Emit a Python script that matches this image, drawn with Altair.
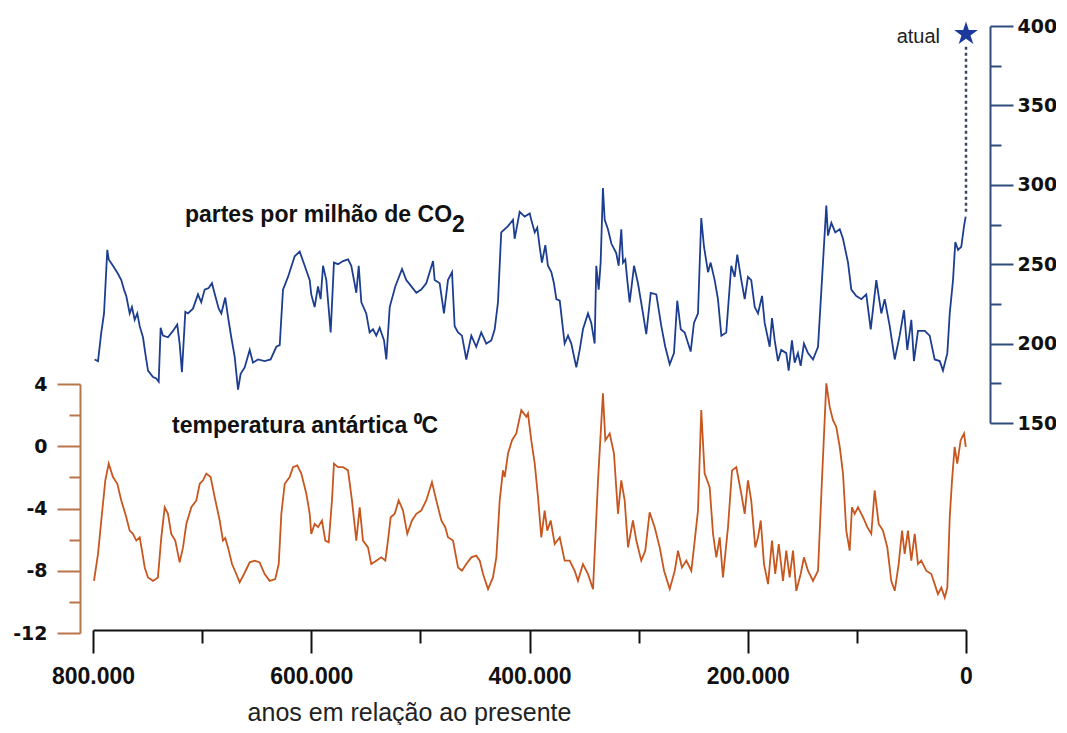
import altair as alt
import pandas as pd

# ---------------- data ----------------
# CO2 (ppm) vs. thousands of years before present
co2_age = [798.5, 795.4, 792.4, 789.9, 786.9, 785.6, 781.7, 777.1, 774.1, 771.6,
           769.5, 766.4, 764.3, 761.8, 759.4, 757.2, 754.2, 752.1, 749.6, 745.0,
           742.0, 739.8, 738.0, 735.9, 731.3, 726.7, 722.8, 720.6, 718.5, 715.4,
           713.0, 708.4, 703.8, 700.8, 697.7, 694.0, 691.0, 689.1, 684.8, 682.4,
           678.8, 676.3, 673.3, 670.2, 667.1, 664.7, 661.0, 656.4, 653.4, 648.8,
           642.7, 637.2, 632.0, 628.9, 625.9, 621.3, 615.2, 610.6, 606.0, 601.4,
           600.0, 596.9, 593.8, 591.4, 589.2, 586.2, 582.2, 579.2, 575.5, 570.9,
           566.3, 563.3, 558.7, 556.5, 554.1, 549.6, 546.5, 543.4, 540.4, 537.3,
           533.3, 531.2, 528.1, 523.0, 516.8, 512.9, 508.3, 503.7, 499.2, 494.6,
           488.4, 486.9, 482.3, 478.4, 474.7, 471.0, 468.6, 465.5, 461.9, 457.9,
           453.3, 448.8, 444.2, 439.6, 435.0, 431.9, 428.9, 425.9, 419.7, 415.1,
           413.6, 409.0, 404.4, 399.8, 398.4, 395.2, 392.9, 390.7, 388.6, 385.5,
           383.1, 380.0, 377.6, 375.4, 372.3, 367.8, 364.7, 361.7, 357.1, 354.0,
           351.0, 346.4, 343.4, 340.3, 338.8, 336.6, 334.8, 332.7, 331.1, 328.1,
           325.0, 320.5, 318.3, 315.9, 314.3, 312.2, 310.4, 308.2, 304.2, 300.6,
           296.0, 293.0, 288.9, 283.8, 279.2, 275.6, 271.5, 267.6, 264.6, 261.4,
           257.8, 252.3, 249.3, 245.6, 242.6, 240.1, 236.4, 234.0, 230.3, 227.3,
           224.2, 219.7, 215.1, 212.0, 209.6, 205.9, 202.8, 199.8, 196.8, 193.6,
           190.6, 186.9, 184.5, 179.9, 177.8, 175.3, 172.3, 169.3, 164.7, 162.5,
           159.5, 157.0, 154.0, 151.5, 148.5, 144.8, 140.2, 135.6, 132.0, 128.0,
           126.5, 123.4, 119.8, 115.7, 112.7, 108.1, 105.1, 100.5, 95.9, 91.4,
           87.3, 82.2, 77.6, 74.5, 69.9, 65.3, 60.8, 56.8, 53.8, 50.1,
           47.7, 44.0, 37.8, 33.3, 28.7, 24.1, 21.1, 17.1, 14.9, 11.9,
           9.8, 7.3, 4.3, 1.8, 0.3]
co2_ppm = [190, 189, 207, 219, 259, 253, 249, 244, 240, 234,
           230, 219, 223, 215, 219, 211, 204, 194, 183, 179,
           178, 176, 210, 205, 204, 208, 212, 200, 182, 220,
           219, 222, 231, 226, 234, 235, 238, 233, 222, 219,
           229, 217, 204, 192, 171, 181, 185, 196, 188, 190,
           189, 190, 198, 199, 234, 242, 255, 258, 249, 240,
           231, 223, 236, 228, 249, 240, 207, 251, 250, 252,
           253, 249, 232, 249, 226, 219, 207, 209, 205, 210,
           202, 190, 223, 236, 247, 240, 236, 232, 234, 238,
           252, 240, 238, 219, 240, 245, 211, 207, 205, 190,
           205, 198, 207, 200, 202, 209, 226, 270, 274, 278,
           266, 283, 280, 282, 278, 270, 273, 261, 251, 262,
           249, 245, 238, 228, 227, 200, 205, 200, 185, 196,
           209, 219, 213, 200, 249, 234, 251, 298, 278, 272,
           263, 257, 249, 272, 251, 253, 240, 226, 249, 238,
           219, 206, 232, 231, 211, 198, 187, 194, 227, 209,
           207, 195, 213, 219, 279, 261, 245, 251, 240, 228,
           205, 207, 249, 242, 256, 240, 228, 242, 240, 223,
           219, 230, 213, 198, 216, 202, 189, 196, 194, 183,
           202, 188, 194, 186, 200, 194, 190, 198, 240, 287,
           268, 276, 270, 272, 266, 251, 234, 230, 228, 231,
           209, 240, 219, 228, 211, 190, 205, 221, 196, 215,
           189, 208, 208, 205, 190, 189, 183, 194, 219, 240,
           264, 259, 261, 274, 280]

# Antarctic temperature (deg C) vs. thousands of years before present
temp_age = [799.1, 795.4, 791.8, 788.7, 785.6, 781.7, 777.7, 774.1, 769.5, 766.4,
            763.4, 760.3, 757.2, 755.1, 752.6, 749.6, 745.0, 740.5, 737.4, 734.3,
            731.3, 728.3, 724.6, 720.6, 717.5, 714.5, 709.9, 705.3, 702.2, 699.2,
            696.2, 692.2, 688.5, 683.9, 680.9, 678.8, 676.3, 672.6, 668.7, 665.6,
            661.6, 656.4, 651.8, 647.3, 642.7, 638.1, 633.0, 629.8, 627.4, 624.3,
            619.8, 616.7, 612.8, 609.1, 604.5, 601.4, 600.0, 596.9, 593.8, 590.2,
            587.1, 584.0, 581.0, 579.2, 575.5, 570.9, 566.3, 562.7, 558.7, 555.6,
            552.6, 548.0, 545.0, 540.4, 535.8, 532.1, 529.7, 527.2, 523.5, 519.9,
            515.9, 512.0, 507.7, 503.7, 499.2, 494.6, 489.4, 485.4, 480.8, 477.2,
            474.7, 470.1, 465.5, 461.9, 457.9, 453.3, 448.8, 445.6, 442.6, 438.0,
            433.5, 430.4, 427.3, 424.3, 422.7, 419.7, 416.0, 412.1, 407.5, 402.9,
            401.4, 398.4, 395.2, 392.2, 389.2, 386.1, 383.7, 380.6, 376.9, 372.3,
            367.8, 363.2, 358.6, 355.6, 351.0, 346.4, 341.8, 337.2, 332.7, 330.5,
            326.5, 322.6, 318.9, 315.9, 312.8, 309.7, 305.2, 302.1, 297.6, 293.9,
            289.9, 285.3, 280.7, 276.7, 271.5, 266.9, 263.9, 260.3, 256.3, 251.7,
            248.6, 245.6, 242.6, 239.5, 234.9, 231.8, 228.8, 225.7, 222.7, 218.1,
            214.4, 210.5, 205.9, 202.8, 199.8, 196.8, 193.1, 190.6, 188.1, 185.1,
            181.4, 177.8, 174.8, 171.6, 167.7, 164.7, 161.6, 158.5, 155.5, 151.5,
            148.5, 144.8, 140.2, 135.6, 132.0, 128.0, 124.9, 121.9, 118.9, 115.7,
            112.7, 109.7, 106.6, 104.5, 102.0, 99.0, 94.4, 90.4, 86.8, 83.7,
            80.0, 76.1, 72.1, 68.5, 65.3, 61.7, 58.6, 56.2, 53.2, 50.1,
            47.0, 44.0, 41.0, 36.4, 31.8, 28.7, 25.7, 22.6, 19.5, 17.1,
            14.9, 12.8, 10.4, 8.0, 4.9, 1.8, 0.2]
temp_c = [-8.65, -6.92, -4.34, -2.19, -1.12, -1.98, -2.41, -3.48, -4.56, -5.42,
          -5.63, -6.06, -5.85, -6.71, -7.79, -8.43, -8.65, -8.43, -5.85, -3.92,
          -4.34, -5.63, -6.06, -7.46, -6.50, -5.00, -3.92, -3.48, -2.41, -2.19,
          -1.76, -1.98, -3.27, -4.77, -6.06, -5.90, -6.50, -7.57, -8.21, -8.75,
          -8.21, -7.46, -7.35, -7.46, -8.21, -8.65, -8.54, -7.57, -4.34, -2.41,
          -1.98, -1.34, -1.23, -1.76, -3.05, -4.34, -5.63, -4.99, -5.20, -4.77,
          -6.06, -6.17, -3.48, -1.12, -1.34, -1.34, -1.55, -3.48, -6.06, -3.92,
          -6.06, -6.50, -7.57, -7.35, -7.14, -7.35, -6.06, -4.56, -4.34, -3.48,
          -4.13, -5.63, -4.77, -4.34, -4.13, -3.48, -2.30, -3.48, -4.77, -5.20,
          -5.85, -6.06, -7.79, -8.00, -7.57, -7.14, -7.03, -7.35, -8.21, -9.18,
          -8.43, -7.14, -3.48, -1.55, -1.98, -0.47, 0.39, 0.82, 2.32, 1.89,
          2.11, 0.40, -1.12, -3.27, -5.85, -4.13, -5.42, -4.77, -6.28, -5.85,
          -7.35, -7.35, -8.00, -8.65, -7.57, -8.21, -9.18, -2.19, 3.40, 0.39,
          0.82, -0.47, -4.34, -2.19, -3.48, -6.50, -4.77, -6.06, -7.35, -6.71,
          -4.24, -5.20, -6.50, -8.00, -9.18, -8.00, -6.71, -7.79, -7.35, -8.00,
          -6.06, -4.13, 2.32, -1.76, -2.63, -5.63, -7.14, -5.85, -8.43, -5.20,
          -1.55, -1.34, -3.05, -4.34, -2.19, -3.50, -6.50, -5.85, -4.77, -7.57,
          -8.86, -6.06, -8.21, -6.28, -8.65, -6.71, -8.43, -6.71, -9.29, -8.21,
          -7.14, -8.00, -8.65, -8.00, -2.19, 4.04, 2.53, 1.68, 1.25, -0.04,
          -1.76, -5.42, -6.71, -3.92, -4.34, -3.92, -4.56, -5.20, -5.63, -2.84,
          -4.99, -5.42, -6.50, -8.65, -9.29, -7.57, -5.42, -6.92, -5.42, -7.35,
          -5.63, -7.57, -7.35, -8.00, -8.21, -8.86, -9.50, -9.08, -9.72, -9.08,
          -4.56, -2.19, -0.04, -1.12, 0.39, 0.82, -0.04]

# present-day CO2 ("atual") and the dotted connector
now_age = [0]
now_co2 = [395]
connector_from = [283]
connector_to = [388]

# ticks
x_ticks = [800, 700, 600, 500, 400, 300, 200, 100, 0]
temp_ticks = [-12, -10, -8, -6, -4, -2, 0, 2, 4]
co2_ticks = [150, 175, 200, 225, 250, 275, 300, 325, 350, 375, 400]

# text
x_title = "anos em relação ao presente"
co2_label_main = "partes por milhão de CO"
co2_label_sub = "2"
temp_label = "temperatura antártica ⁰C"
now_label = "atual"

# ---------------- styling ----------------
TEMP_LINE = "#c8561f"
TEMP_AXIS = "#b8744a"
CO2_LINE = "#1d3e90"
CO2_AXIS = "#2e4d7c"
STAR = "#1b3a9c"
TXT = "#111111"
STAR_PATH = ("M0,-1L0.2245,-0.309L0.951,-0.309L0.363,0.118L0.588,0.809L0,0.382"
             "L-0.588,0.809L-0.363,0.118L-0.951,-0.309L-0.2245,-0.309Z")

W, H = 873, 610

x_scale = alt.Scale(domain=[800, 0], nice=False, zero=False)
temp_scale = alt.Scale(domain=[-12, 4], range=[613, 364], nice=False, zero=False)
co2_scale = alt.Scale(domain=[150, 400], range=[403, 6], nice=False, zero=False)

x_axis = alt.Axis(
    values=x_ticks,
    labelExpr="datum.value % 200 === 0 ? (datum.value === 0 ? '0' : datum.value + '.000') : ''",
    tickSize={"condition": {"test": "datum.value % 200 === 0", "value": 23}, "value": 13},
    tickColor="#111111", tickWidth=2, domainColor="#111111", domainWidth=2,
    labelFont="Liberation Sans", labelFontSize=23, labelFontWeight="bold",
    labelColor=TXT, labelPadding=12, labelFlush=False, labelOverlap=False,
    grid=False,
    title=x_title, titleFont="Liberation Sans", titleFontSize=25,
    titleFontWeight="normal", titleColor="#222222",
    titleX=316, titleY=90, titleAlign="center", titleBaseline="alphabetic",
)

temp_axis = alt.Axis(
    orient="left", values=temp_ticks, offset=13,
    labelExpr="datum.value % 4 === 0 ? '' + datum.value : ''",
    tickSize={"condition": {"test": "datum.value % 4 === 0", "value": 23}, "value": 11},
    tickColor=TEMP_AXIS, tickWidth=2, domainColor=TEMP_AXIS, domainWidth=2,
    labelFont="DejaVu Sans", labelFontSize=19, labelFontWeight="bold",
    labelColor=TXT, labelPadding=10, labelFlush=False, labelOverlap=False,
    grid=False, title=None,
)

co2_axis = alt.Axis(
    orient="right", values=co2_ticks, offset=24,
    labelExpr="datum.value % 50 === 0 ? '' + datum.value : ''",
    tickSize={"condition": {"test": "datum.value % 50 === 0", "value": 23}, "value": 11},
    tickColor=CO2_AXIS, tickWidth=2, domainColor=CO2_AXIS, domainWidth=2,
    labelFont="DejaVu Sans", labelFontSize=19, labelFontWeight="bold",
    labelColor=TXT, labelPadding=4, labelFlush=False, labelOverlap=False,
    grid=False, title=None,
)

temp_df = pd.DataFrame({"age": temp_age, "val": temp_c})
co2_df = pd.DataFrame({"age": co2_age, "val": co2_ppm})


def X():
    return alt.X("age:Q", scale=x_scale, axis=x_axis)


# ---- temperature group ----
temp_line = alt.Chart(temp_df).mark_line(color=TEMP_LINE, strokeWidth=1.8).encode(
    x=X(), y=alt.Y("val:Q", scale=temp_scale, axis=temp_axis)
)
temp_text = alt.Chart(pd.DataFrame({"age": [727.6], "val": [0.84], "t": [temp_label]})).mark_text(
    align="left", baseline="alphabetic", font="Liberation Sans", fontSize=23,
    fontWeight="bold", color=TXT
).encode(x=X(), y=alt.Y("val:Q", scale=temp_scale, axis=temp_axis), text="t:N")
temp_group = alt.layer(temp_line, temp_text)

# ---- CO2 group ----
co2_line = alt.Chart(co2_df).mark_line(color=CO2_LINE, strokeWidth=1.8).encode(
    x=X(), y=alt.Y("val:Q", scale=co2_scale, axis=co2_axis)
)
connector = alt.Chart(pd.DataFrame({"age": now_age, "val": connector_from, "val2": connector_to})).mark_rule(
    color="#3a4560", strokeWidth=2.5, strokeDash=[3, 3]
).encode(x=X(), y=alt.Y("val:Q", scale=co2_scale, axis=co2_axis), y2="val2:Q")
star = alt.Chart(pd.DataFrame({"age": now_age, "val": now_co2})).mark_point(
    shape=STAR_PATH, size=620, filled=True, color=STAR, opacity=1
).encode(x=X(), y=alt.Y("val:Q", scale=co2_scale, axis=co2_axis))
now_text = alt.Chart(pd.DataFrame({"age": [23.8], "val": [389.0], "t": [now_label]})).mark_text(
    align="right", baseline="alphabetic", font="Liberation Sans", fontSize=20,
    color="#222222"
).encode(x=X(), y=alt.Y("val:Q", scale=co2_scale, axis=co2_axis), text="t:N")
co2_text = alt.Chart(pd.DataFrame({"age": [471.0], "val": [276.8], "t": [co2_label_main]})).mark_text(
    align="right", baseline="alphabetic", font="Liberation Sans", fontSize=23,
    fontWeight="bold", color=TXT
).encode(x=X(), y=alt.Y("val:Q", scale=co2_scale, axis=co2_axis), text="t:N")
co2_sub = alt.Chart(pd.DataFrame({"age": [471.0], "val": [270.0], "t": [co2_label_sub]})).mark_text(
    align="left", baseline="alphabetic", font="Liberation Sans", fontSize=23,
    fontWeight="bold", color=TXT
).encode(x=X(), y=alt.Y("val:Q", scale=co2_scale, axis=co2_axis), text="t:N")
co2_group = alt.layer(co2_line, connector, star, now_text, co2_text, co2_sub)

chart = (
    alt.layer(temp_group, co2_group)
    .resolve_scale(y="independent")
    .properties(
        width=W, height=H,
        padding={"left": 85, "top": 12, "right": 90, "bottom": 95},
        autosize=alt.AutoSizeParams(type="none"),
        background="white",
    )
    .configure_view(stroke=None)
)

chart.save("out.html", embed_options={"renderer": "svg", "actions": False})
